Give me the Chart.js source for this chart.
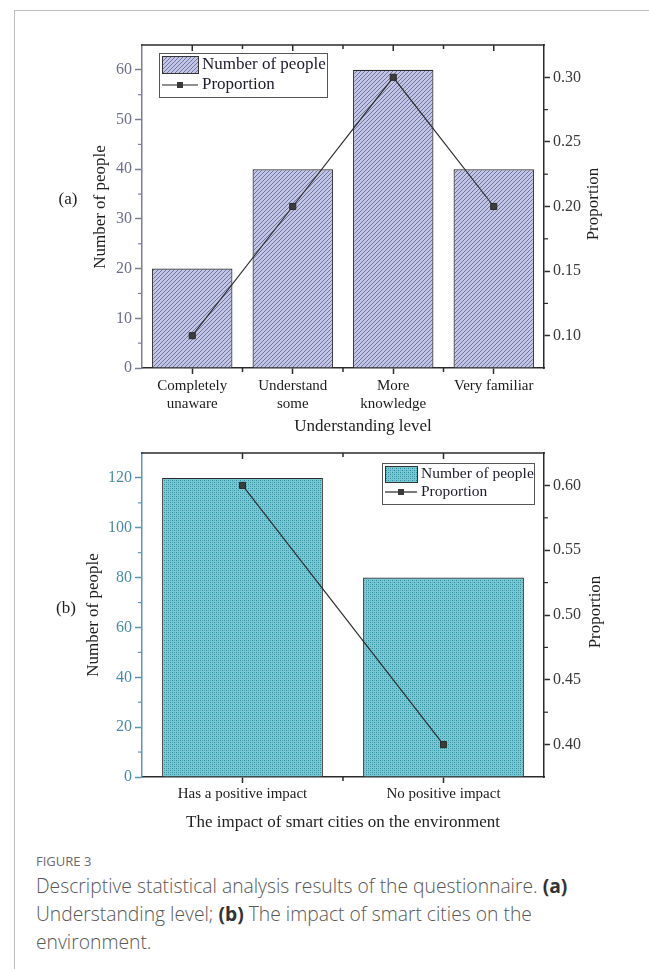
<!DOCTYPE html>
<html>
<head>
<meta charset="utf-8">
<script src="https://cdn.jsdelivr.net/npm/chart.js@4/dist/chart.umd.min.js"></script>
<style>
  body { margin: 0; background: #fff; width: 649px; height: 969px; overflow: hidden; position: relative; }
  #frame { position: absolute; left: 14px; top: 10px; width: 700px; height: 1000px;
           border-left: 1.5px solid #bdbdbd; border-top: 1.5px solid #bdbdbd; }
  canvas { position: absolute; left: 0; }
  #chartA { top: 0; }
  #chartB { top: 440px; }
  #caption { position: absolute; left: 36px; top: 852px; font-family: "Open Sans", Lato, sans-serif; color: #585858; }
  #caption .fig { font-size: 13px; color: #6a6a6a; margin-bottom: 2px; }
  #caption p { margin: 0; font-size: 19.3px; font-weight: 300; line-height: 28px; }
  #caption b { color: #333; font-weight: 700; }
</style>
</head>
<body>
<div id="frame"></div>
<canvas id="chartA" width="649" height="440"></canvas>
<canvas id="chartB" width="649" height="400"></canvas>
<div id="caption">
  <div class="fig">FIGURE 3</div>
  <p>Descriptive statistical analysis results of the questionnaire. <b>(a)</b><br>
  Understanding level; <b>(b)</b> The impact of smart cities on the<br>
  environment.</p>
</div>
<script>
// panel (a)
const levelLabels = [["Completely", "unaware"], ["Understand", "some"], ["More", "knowledge"], "Very familiar"];
const levelCounts = [20, 40, 60, 40];
const levelShares = [0.10, 0.20, 0.30, 0.20];
const countTicksA = [0, 10, 20, 30, 40, 50, 60];
const shareTicksA = [0.10, 0.15, 0.20, 0.25, 0.30];

// panel (b)
const impactLabels = ["Has a positive impact", "No positive impact"];
const impactCounts = [120, 80];
const impactShares = [0.60, 0.40];
const countTicksB = [0, 20, 40, 60, 80, 100, 120];
const shareTicksB = [0.40, 0.45, 0.50, 0.55, 0.60];

Chart.defaults.font.family = '"Liberation Serif", "Times New Roman", serif';

function hatchPattern() {
  const c = document.createElement("canvas");
  c.width = 4; c.height = 4;
  const g = c.getContext("2d");
  g.fillStyle = "#c3c5e4";
  g.fillRect(0, 0, 4, 4);
  g.strokeStyle = "#6f74a4";
  g.lineWidth = 1;
  g.beginPath();
  g.moveTo(-1, 5); g.lineTo(5, -1);
  g.moveTo(-1, 1); g.lineTo(1, -1);
  g.moveTo(3, 5); g.lineTo(5, 3);
  g.stroke();
  return g.createPattern(c, "repeat");
}

function dotPattern() {
  const c = document.createElement("canvas");
  c.width = 4; c.height = 4;
  const g = c.getContext("2d");
  g.fillStyle = "#79c9d5";
  g.fillRect(0, 0, 4, 4);
  g.fillStyle = "#2f8a9c";
  g.fillRect(0, 0, 1, 1);
  g.fillRect(2, 2, 1, 1);
  g.fillStyle = "#4fa9b8";
  g.fillRect(2, 0, 1, 1);
  g.fillRect(0, 2, 1, 1);
  return g.createPattern(c, "repeat");
}

function line(ctx, x1, y1, x2, y2) {
  ctx.beginPath(); ctx.moveTo(x1, y1); ctx.lineTo(x2, y2); ctx.stroke();
}

function minorValues(ticks, min, max) {
  const out = [];
  const step = ticks[1] - ticks[0];
  const cand = [ticks[0] - step / 2];
  for (let i = 0; i < ticks.length - 1; i++) cand.push((ticks[i] + ticks[i + 1]) / 2);
  cand.push(ticks[ticks.length - 1] + step / 2);
  cand.forEach((v) => { if (v > min + 1e-6 && v < max - 1e-6) out.push(v); });
  return out;
}

const decor = {
  id: "decor",
  afterDraw(chart, args, o) {
    const ctx = chart.ctx;
    const a = chart.chartArea;
    const x = chart.scales.x, yl = chart.scales.y, yr = chart.scales.y1;
    ctx.save();

    // top axis and extra ticks
    ctx.strokeStyle = "#2b2b2b";
    ctx.lineWidth = 1.5;
    line(ctx, a.left - 1, a.top, a.right + 1, a.top);
    const n = chart.data.labels.length;
    for (let i = 0; i < n; i++) {
      const c = x.getPixelForValue(i);
      line(ctx, c, a.top, c, a.top + 6);
      if (i < n - 1) {
        const b = (c + x.getPixelForValue(i + 1)) / 2;
        line(ctx, b, a.top, b, a.top + 4);
        line(ctx, b, a.bottom, b, a.bottom + 4);
      }
    }
    // minor ticks on the value axes
    ctx.lineWidth = 1.2;
    ctx.strokeStyle = o.leftColor;
    minorValues(o.leftTicks, yl.min, yl.max).forEach((v) => {
      const p = yl.getPixelForValue(v);
      line(ctx, a.left, p, a.left - 4, p);
    });
    ctx.strokeStyle = "#2b2b2b";
    minorValues(o.rightTicks, yr.min, yr.max).forEach((v) => {
      const p = yr.getPixelForValue(v);
      line(ctx, a.right, p, a.right + 4, p);
    });

    // legend
    const L = o.legend;
    const lineSet = chart.data.datasets[0], barSet = chart.data.datasets[1];
    ctx.fillStyle = "#fff";
    ctx.fillRect(L.x, L.y, L.w, L.h);
    ctx.strokeStyle = "#555";
    ctx.lineWidth = 1;
    ctx.strokeRect(L.x + 0.5, L.y + 0.5, L.w, L.h);
    ctx.fillStyle = barSet.backgroundColor;
    ctx.fillRect(L.x + 3, L.y + 3, L.sw, L.sh);
    ctx.strokeStyle = "#333";
    ctx.strokeRect(L.x + 3.5, L.y + 3.5, L.sw, L.sh);
    const ly = L.y + L.h - L.row / 2 - 2;
    ctx.strokeStyle = "#222";
    ctx.lineWidth = 1.2;
    line(ctx, L.x + 3, ly, L.x + 3 + L.sw, ly);
    ctx.fillStyle = "#3a3a3a";
    ctx.fillRect(L.x + 3 + L.sw / 2 - 3, ly - 3, 6, 6);
    ctx.fillStyle = "#1c1c2c";
    ctx.font = L.size + 'px "Liberation Serif"';
    ctx.textBaseline = "middle";
    ctx.textAlign = "left";
    ctx.fillText(barSet.label, L.x + L.sw + 7, L.y + 3 + L.sh / 2);
    ctx.fillText(lineSet.label, L.x + L.sw + 7, ly);

    // titles and panel label
    ctx.fillStyle = "#1e1e1e";
    ctx.font = '17px "Liberation Serif"';
    ctx.textAlign = "center";
    ctx.fillText(o.xTitle, o.xTitleX, o.xTitleY);
    ctx.fillText(o.panel, o.panelX, o.panelY);
    [[o.yTitle, o.yTitleX, o.yTitleY], [o.y1Title, o.y1TitleX, o.y1TitleY]].forEach(([s, tx, ty]) => {
      ctx.save();
      ctx.translate(tx, ty);
      ctx.rotate(-Math.PI / 2);
      ctx.fillText(s, 0, 0);
      ctx.restore();
    });
    ctx.restore();
  },
};

function makeChart(id, p) {
  return new Chart(document.getElementById(id), {
    type: "bar",
    data: {
      labels: p.labels,
      datasets: [
        {
          type: "line",
          label: "Proportion",
          data: p.shares,
          yAxisID: "y1",
          order: 0,
          borderColor: "#2e2e2e",
          borderWidth: 1.2,
          tension: 0,
          pointStyle: "rect",
          pointRadius: 4.3,
          pointBackgroundColor: "#3c3c3c",
          pointBorderColor: "#2a2a2a",
          pointBorderWidth: 1,
        },
        {
          label: "Number of people",
          data: p.counts,
          yAxisID: "y",
          order: 1,
          backgroundColor: p.fill,
          borderColor: "#2a2a2a",
          borderWidth: 1.2,
          barPercentage: 0.8,
          categoryPercentage: 1.0,
        },
      ],
    },
    options: {
      responsive: false,
      animation: false,
      layout: { padding: { top: p.top, left: 0, right: 0, bottom: 0 } },
      plugins: {
        legend: { display: false },
        tooltip: { enabled: false },
        decor: p.decor,
      },
      scales: {
        x: {
          type: "category",
          offset: true,
          afterFit: (s) => { s.height = p.xHeight; },
          grid: { offset: false, drawOnChartArea: false, drawTicks: true, tickLength: 6, tickWidth: 1.5, tickColor: "#2b2b2b" },
          border: { color: "#2b2b2b", width: 1.5 },
          ticks: { color: "#1c1c1c", font: { size: 15 }, padding: p.xPad, maxRotation: 0, autoSkip: false },
        },
        y: {
          position: "left",
          min: 0,
          max: p.countMax,
          afterFit: (s) => { s.width = 142; },
          afterBuildTicks: (s) => { s.ticks = p.countTicks.map((v) => ({ value: v })); },
          grid: { drawOnChartArea: false, drawTicks: true, tickLength: 7, tickWidth: 1.5, tickColor: p.leftColor },
          border: { color: p.leftColor, width: 1.5 },
          ticks: { color: p.leftText, font: { size: 16 }, padding: 3 },
        },
        y1: {
          position: "right",
          min: p.shareMin,
          max: p.shareMax,
          afterFit: (s) => { s.width = 105; },
          afterBuildTicks: (s) => { s.ticks = p.shareTicks.map((v) => ({ value: v })); },
          grid: { drawOnChartArea: false, drawTicks: true, tickLength: 6, tickWidth: 1.5, tickColor: "#2b2b2b" },
          border: { color: "#2b2b2b", width: 1.5 },
          ticks: { color: "#3a3a3a", font: { size: 16 }, padding: 3, callback: (v) => Number(v).toFixed(2) },
        },
      },
    },
    plugins: [decor],
  });
}

makeChart("chartA", {
  labels: levelLabels,
  counts: levelCounts,
  shares: levelShares,
  countTicks: countTicksA,
  shareTicks: shareTicksA,
  countMax: 65,
  shareMin: 0.075,
  shareMax: 0.325,
  fill: hatchPattern(),
  top: 45,
  xHeight: 72,
  xPad: 3,
  leftColor: "#7c7e98",
  leftText: "#6c6f8e",
  decor: {
    leftTicks: countTicksA, rightTicks: shareTicksA, leftColor: "#7c7e98",
    legend: { x: 159, y: 53, w: 168, h: 44, sw: 36, sh: 17, row: 20, size: 17 },
    xTitle: "Understanding level", xTitleX: 363, xTitleY: 427,
    panel: "(a)", panelX: 68, panelY: 200,
    yTitle: "Number of people", yTitleX: 101, yTitleY: 207,
    y1Title: "Proportion", y1TitleX: 594, y1TitleY: 204,
  },
});

makeChart("chartB", {
  labels: impactLabels,
  counts: impactCounts,
  shares: impactShares,
  countTicks: countTicksB,
  shareTicks: shareTicksB,
  countMax: 130,
  shareMin: 0.375,
  shareMax: 0.625,
  fill: dotPattern(),
  top: 13,
  xHeight: 63,
  xPad: 2,
  leftColor: "#5a97b5",
  leftText: "#4a8bab",
  decor: {
    leftTicks: countTicksB, rightTicks: shareTicksB, leftColor: "#5a97b5",
    legend: { x: 382, y: 23, w: 152, h: 41, sw: 32, sh: 16, row: 20, size: 15.5 },
    xTitle: "The impact of smart cities on the environment", xTitleX: 343, xTitleY: 383,
    panel: "(b)", panelX: 66, panelY: 169,
    yTitle: "Number of people", yTitleX: 94, yTitleY: 175,
    y1Title: "Proportion", y1TitleX: 596, y1TitleY: 172,
  },
});
</script>
</body>
</html>
